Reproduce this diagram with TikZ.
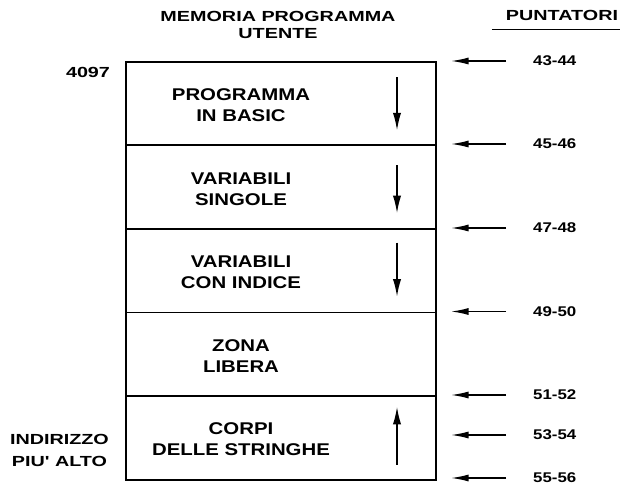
\documentclass[tikz,border=0pt]{standalone}
\usepackage{fontspec}
\setmainfont{Liberation Sans}[FakeStretch=1.2]
\newfontfamily\widefont{Liberation Sans}[FakeStretch=1.35]
\usetikzlibrary{arrows.meta}

\begin{document}
\begin{tikzpicture}[
    x=0.03cm, y=-0.03cm,
    font=\widefont\bfseries\fontsize{12.5}{14.2}\selectfont,
    line/.style={draw, black, line width=1.7pt},
    cell/.style={line, minimum width=9.3cm, minimum height=2.505cm, inner sep=0pt},
    celltext/.style={align=center, font=\bfseries\fontsize{14.5}{18}\selectfont},
    ptrlabel/.style={anchor=west, font=\bfseries\fontsize{12}{14}\selectfont},
    ptr/.style={draw, black, line width=1.3pt, -{Latex[length=15pt,width=6pt]}, shorten >=0.42cm},
    flow/.style={draw, black, line width=1.3pt, -{Latex[length=15pt,width=7pt]}},
  ]
  \useasboundingbox (0,0) rectangle (621,486);

  % ---- titoli ----
  \node[align=center] (titolo) at (278,25) {MEMORIA PROGRAMMA\\UTENTE};
  \node (punt) at (562,15) {PUNTATORI};
  \draw[black, line width=0.8pt] ([xshift=-0.3cm, yshift=-0.27cm]punt.base west)
    -- ([xshift=-0.06cm, yshift=-0.27cm]punt.base east);

  % ---- colonna della memoria ----
  \foreach \n/\y in {1/103.75, 2/187.25, 3/270.75, 4/354.25, 5/437.75}
    \node[cell] (c\n) at (281,\y) {};
  \foreach \n/\txt in {1/{PROGRAMMA\\IN BASIC}, 2/{VARIABILI\\SINGOLE},
      3/{VARIABILI\\CON INDICE}, 4/{ZONA\\LIBERA}, 5/{CORPI\\DELLE STRINGHE}}
    \node[celltext] (t\n) at ([xshift=-1.2cm, yshift=-0.05cm]c\n.center) {\txt};

  % ---- direzione di crescita ----
  \draw[flow] ([xshift=3.48cm, yshift=0.8cm]c1.center) -- ([xshift=3.48cm, yshift=-0.8cm]c1.center);
  \draw[flow] ([xshift=3.48cm, yshift=0.66cm]c2.center) -- ([xshift=3.48cm, yshift=-0.78cm]c2.center);
  \draw[flow] ([xshift=3.48cm, yshift=0.84cm]c3.center) -- ([xshift=3.48cm, yshift=-0.78cm]c3.center);
  \draw[flow] ([xshift=3.48cm, yshift=-0.81cm]c5.center) -- ([xshift=3.48cm, yshift=0.93cm]c5.center);

  % ---- puntatori ----
  \foreach \p/\y [count=\i] in {43-44/61, 45-46/144, 47-48/228, 49-50/311.5,
      51-52/395, 53-54/435, 55-56/478}
    {\node[ptrlabel] (p\i) at (529,\y) {\p};
     \draw[ptr] ([xshift=-0.69cm]p\i.west) -- (p\i.west -| c1.east);}

  % ---- indirizzi ----
  \node (basso) at (88,72) {4097};
  \node[align=center, anchor=east, font=\widefont\bfseries\fontsize{12.5}{18.8}\selectfont] (alto)
    at (113,450) {INDIRIZZO\\PIU' ALTO};
\end{tikzpicture}
\end{document}
